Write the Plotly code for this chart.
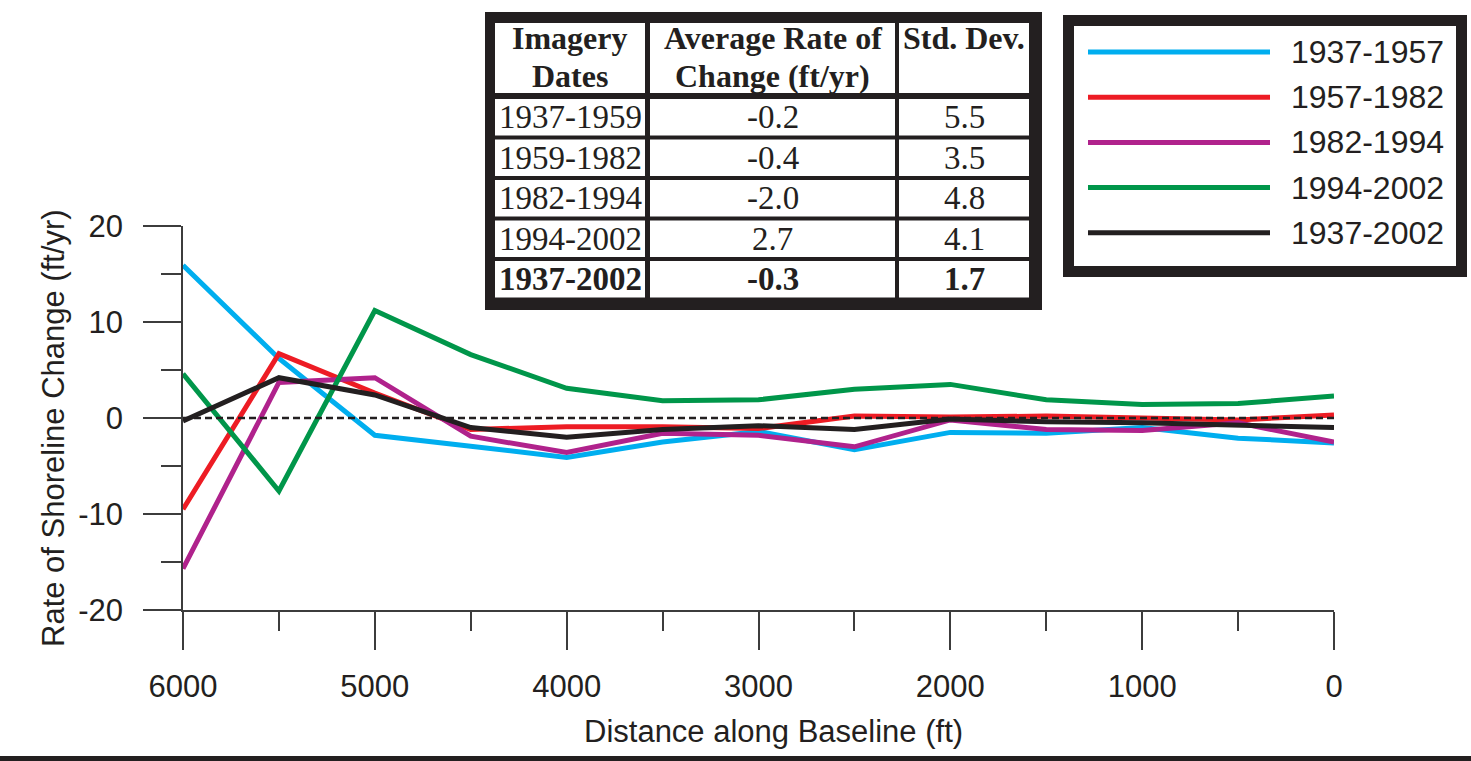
import plotly.graph_objects as go

# ---------------- data ----------------
distance_ft = [6000, 5500, 5000, 4500, 4000, 3500, 3000, 2500, 2000, 1500, 1000, 500, 0]
series_names = ["1937-1957", "1957-1982", "1982-1994", "1994-2002", "1937-2002"]
series_colors = ["#00AEEF", "#ED1C24", "#B0228C", "#00964A", "#231F20"]
rate_1937_1957 = [15.9, 6.2, -1.8, -3.0, -4.1, -2.5, -1.4, -3.3, -1.5, -1.6, -1.0, -2.1, -2.6]
rate_1957_1982 = [-9.5, 6.7, 2.6, -1.2, -0.9, -0.9, -1.1, 0.2, 0.1, 0.2, 0.0, -0.2, 0.3]
rate_1982_1994 = [-15.7, 3.7, 4.2, -1.9, -3.6, -1.6, -1.8, -3.0, -0.2, -1.2, -1.3, -0.5, -2.5]
rate_1994_2002 = [4.6, -7.6, 11.2, 6.6, 3.1, 1.8, 1.9, 3.0, 3.5, 1.9, 1.4, 1.5, 2.3]
rate_1937_2002 = [-0.3, 4.2, 2.4, -1.0, -2.0, -1.2, -0.8, -1.2, -0.1, -0.4, -0.5, -0.7, -1.0]
series_values = [rate_1937_1957, rate_1957_1982, rate_1982_1994, rate_1994_2002, rate_1937_2002]

y_tick_values = [-20, -10, 0, 10, 20]
y_tick_labels = ["-20", "-10", "0", "10", "20"]

table_header = ["Imagery<br>Dates", "Average Rate of<br>Change (ft/yr)", "Std. Dev."]
table_dates = ["1937-1959", "1959-1982", "1982-1994", "1994-2002", "1937-2002"]
table_avg_rate = [-0.2, -0.4, -2.0, 2.7, -0.3]
table_std_dev = [5.5, 3.5, 4.8, 4.1, 1.7]

x_title = "Distance along Baseline (ft)"
y_title = "Rate of Shoreline Change (ft/yr)"

# ---------------- layout helpers ----------------
W, H = 1471, 761
TXT = "#231F20"
AX = "#3C3C3C"
SANS = "Liberation Sans, Arial, sans-serif"
SERIF = "Liberation Serif, Times New Roman, serif"


def fx(p):
    return p / W


def fy(p):
    return 1 - p / H


fig = go.Figure()
for name, color, vals in zip(series_names, series_colors, series_values):
    fig.add_trace(go.Scatter(x=distance_ft, y=vals, mode="lines", name=name,
                             line=dict(color=color, width=5), showlegend=False))

shapes = []
annotations = []

# dashed zero line
shapes.append(dict(type="line", xref="x domain", yref="y", x0=0, x1=1, y0=0, y1=0,
                   line=dict(color=TXT, width=2.5, dash="7px,4px"), layer="above"))

# ---------- table ----------
shapes.append(dict(type="rect", xref="paper", yref="paper", x0=fx(485), x1=fx(1042),
                   y0=fy(310), y1=fy(12), fillcolor=TXT, line=dict(width=0), layer="above"))
col_edges = [(495, 645), (650, 895), (899, 1029)]
row_edges = [(23, 93)] + [(99 + i * 40.5, 135.5 + i * 40.5) for i in range(5)]
for (r0, r1) in row_edges:
    for (c0, c1) in col_edges:
        shapes.append(dict(type="rect", xref="paper", yref="paper", x0=fx(c0), x1=fx(c1),
                           y0=fy(r1), y1=fy(r0), fillcolor="white", line=dict(width=0),
                           layer="above"))
# header text (one annotation per line for tight line spacing)
for j, h in enumerate(table_header):
    c0, c1 = col_edges[j]
    for li, line_txt in enumerate(h.split("<br>")):
        annotations.append(dict(xref="paper", yref="paper", x=fx((c0 + c1) / 2),
                                y=fy(38 + li * 38), xanchor="center", yanchor="middle",
                                showarrow=False, text=line_txt,
                                font=dict(family=SERIF, size=32, color=TXT, weight="bold")))
# body text
for i in range(len(table_dates)):
    r0, r1 = row_edges[i + 1]
    yc = fy((r0 + r1) / 2)
    bold = (i == len(table_dates) - 1)
    cells = [table_dates[i], f"{table_avg_rate[i]:.1f}", f"{table_std_dev[i]:.1f}"]
    for j, txt in enumerate(cells):
        c0, c1 = col_edges[j]
        annotations.append(dict(xref="paper", yref="paper", x=fx((c0 + c1) / 2), y=yc,
                                xanchor="center", yanchor="middle", showarrow=False, text=txt,
                                font=dict(family=SERIF, size=33, color=TXT,
                                          weight="bold" if bold else "normal")))

# ---------- legend ----------
shapes.append(dict(type="rect", xref="paper", yref="paper", x0=fx(1063), x1=fx(1467),
                   y0=fy(277), y1=fy(15), fillcolor=TXT, line=dict(width=0), layer="above"))
shapes.append(dict(type="rect", xref="paper", yref="paper", x0=fx(1074), x1=fx(1456),
                   y0=fy(266), y1=fy(26), fillcolor="white", line=dict(width=0), layer="above"))
for k, (name, color) in enumerate(zip(series_names, series_colors)):
    yy = fy(52 + k * 45.2)
    shapes.append(dict(type="line", xref="paper", yref="paper", x0=fx(1088), x1=fx(1270),
                       y0=yy, y1=yy, line=dict(color=color, width=5), layer="above"))
    annotations.append(dict(xref="paper", yref="paper", x=fx(1289), y=yy, xanchor="left",
                            yanchor="middle", showarrow=False, text=name,
                            font=dict(family=SANS, size=32, color=TXT)))

# axis titles
annotations.append(dict(xref="paper", yref="paper", x=fx(773), y=fy(731), xanchor="center",
                        yanchor="middle", showarrow=False, text=x_title,
                        font=dict(family=SANS, size=31, color=TXT)))
annotations.append(dict(xref="paper", yref="paper", x=fx(53), y=fy(428), xanchor="center",
                        yanchor="middle", showarrow=False, text=y_title, textangle=-90,
                        font=dict(family=SANS, size=31, color=TXT)))

# bottom rule
shapes.append(dict(type="rect", xref="paper", yref="paper", x0=0, x1=1, y0=0, y1=fy(756),
                   fillcolor=TXT, line=dict(width=0), layer="above"))

fig.update_layout(
    width=W, height=H, margin=dict(l=0, r=0, t=0, b=0),
    paper_bgcolor="white", plot_bgcolor="white", template="none",
    showlegend=False, shapes=shapes, annotations=annotations,
    xaxis=dict(domain=[fx(183), fx(1334)], range=[6000, 0], tick0=0, dtick=1000,
               ticks="outside", ticklen=38, tickwidth=1.5, tickcolor=AX,
               showline=True, linecolor=AX, linewidth=1.5, showgrid=False, zeroline=False,
               minor=dict(dtick=500, ticks="outside", ticklen=19, tickwidth=1.5,
                          tickcolor=AX, showgrid=False),
               tickfont=dict(family=SANS, size=31, color=TXT), automargin=False,
               ticklabelstandoff=10),
    yaxis=dict(domain=[fy(610), fy(226)], range=[-20, 20],
               tickmode="array", tickvals=y_tick_values, ticktext=y_tick_labels,
               ticks="outside", ticklen=38, tickwidth=1.5, tickcolor=AX,
               showline=True, linecolor=AX, linewidth=1.5, showgrid=False, zeroline=False,
               minor=dict(dtick=5, ticks="outside", ticklen=20, tickwidth=1.5,
                          tickcolor=AX, showgrid=False),
               tickfont=dict(family=SANS, size=31, color=TXT), automargin=False,
               ticklabelstandoff=14),
)

fig.write_html("out.html", config={"displayModeBar": False},
               post_script="document.body.style.margin='0px';document.body.style.overflow='hidden';")
